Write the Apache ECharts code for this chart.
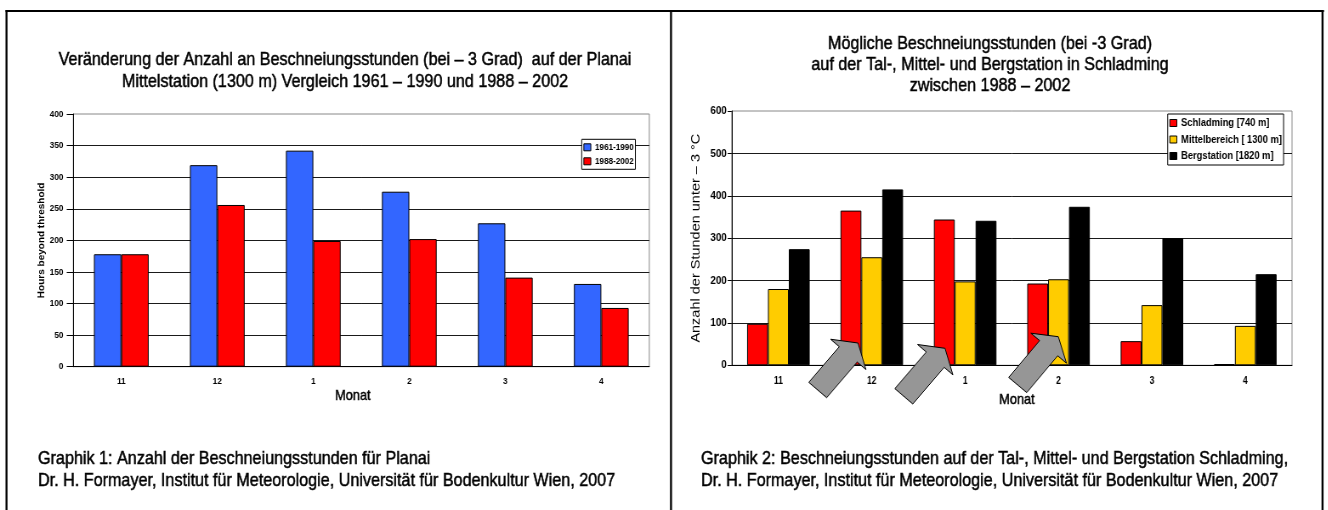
<!DOCTYPE html>
<html>
<head>
<meta charset="utf-8">
<title>Beschneiungsstunden Planai / Schladming</title>
<script src="https://cdn.jsdelivr.net/npm/echarts@6/dist/echarts.min.js"></script>
<style>
html, body { margin: 0; padding: 0; background: #fff; overflow: hidden; }
/* the scanned page is squeezed sideways, so the chart is drawn wider and scaled back */
#chart { width: 1563px; height: 510px; transform: scaleX(0.85); transform-origin: 0 0; }
</style>
</head>
<body>
<div id="chart"></div>
<script>
const SX = 0.85
const X = v => v / SX
const FONT = '"Liberation Sans", Arial, sans-serif'

// data
const months = ['11', '12', '1', '2', '3', '4']
const planai6190 = [178, 319, 342, 277, 227, 131]
const planai8802 = [178, 256, 199, 202, 141, 93]
const schladming740 = [98, 365, 344, 193, 57, 3]
const mittel1300 = [180, 255, 198, 203, 142, 93]
const berg1820 = [274, 415, 341, 374, 300, 215]
const hoursMax = 400, hoursStep = 50
const stundenMax = 600, stundenStep = 100

// arrows in page pixels: tail middle x, y, tip x, y
const arrows = [
  [817.7, 390, 858, 343],
  [903.8, 396.3, 945, 348.3],
  [1017.7, 385, 1058.3, 336.7]
]

const arrowPoints = (a) => {
  const [tx, ty, px, py] = a
  const L = Math.hypot(px - tx, py - ty)
  const dx = (px - tx) / L, dy = (py - ty) / L
  const nx = -dy, ny = dx
  const w1 = 11.8, w2 = 23.3, h = 15
  const bx = tx + dx * (L - h), by = ty + dy * (L - h)
  const pts = [
    [tx + nx * w1, ty + ny * w1],
    [bx + nx * w1, by + ny * w1],
    [bx + nx * w2, by + ny * w2],
    [px, py],
    [bx - nx * w2, by - ny * w2],
    [bx - nx * w1, by - ny * w1],
    [tx - nx * w1, ty - ny * w1]
  ]
  return pts.map(p => [X(p[0]), p[1]])
}

// scanned text is a bit heavier than the plain font
const thick = { textBorderColor: '#000', textBorderWidth: 0.5 }
const barBorder = { borderColor: '#000', borderWidth: 1 }

const catAxis = (grid, fontSize, margin, nameGap, namePad) => ({
  type: 'category',
  gridIndex: grid,
  data: months,
  axisLine: { lineStyle: { color: '#000', width: 1 } },
  axisTick: { length: 5, lineStyle: { color: '#000' } },
  axisLabel: { color: '#000', fontWeight: 'bold', fontSize: fontSize, margin: margin, fontFamily: FONT },
  name: 'Monat',
  nameLocation: 'middle',
  nameGap: nameGap,
  nameTextStyle: Object.assign({ color: '#000', fontSize: 15, fontFamily: FONT, padding: namePad }, thick)
})

const valAxis = (grid, max, step, opt) => ({
  type: 'value',
  gridIndex: grid,
  min: 0,
  max: max,
  interval: step,
  axisLine: { show: true, lineStyle: { color: '#000', width: 1 } },
  axisTick: { show: true, length: opt.tick, lineStyle: { color: '#000' } },
  axisLabel: { color: '#000', fontWeight: 'bold', fontSize: opt.fontSize, margin: opt.margin, fontFamily: FONT },
  splitLine: { showMaxLine: false, lineStyle: { color: '#1a1a1a', width: 1 } },
  name: opt.name,
  nameLocation: 'middle',
  nameGap: opt.nameGap,
  nameTextStyle: { color: '#000', fontSize: opt.nameSize, fontWeight: opt.nameWeight, fontFamily: FONT }
})

const legendBase = {
  orient: 'vertical',
  icon: 'rect',
  itemWidth: X(7),
  itemHeight: 7,
  borderColor: '#000',
  borderWidth: 1,
  backgroundColor: '#fff',
  selectedMode: false,
  itemStyle: { borderColor: '#000', borderWidth: 1 }
}

const borders = [
  [5.5, 10, 2, 500],
  [5.5, 10, 1318.5, 2],
  [670, 10, 2, 500],
  [1321.5, 10, 2, 500]
]

const myChart = echarts.init(document.getElementById('chart'))
const option = {
  animation: false,
  backgroundColor: '#fff',
  title: [
    {
      text: 'Veränderung der Anzahl an Beschneiungsstunden (bei – 3 Grad)  auf der Planai\nMittelstation (1300 m) Vergleich 1961 – 1990 und 1988 – 2002',
      left: X(345),
      top: 49,
      textAlign: 'center',
      padding: 0,
      textStyle: Object.assign({ color: '#000', fontSize: 19, fontWeight: 'normal', lineHeight: 21.7, fontFamily: FONT }, thick)
    },
    {
      text: 'Mögliche Beschneiungsstunden (bei -3 Grad)\nauf der Tal-, Mittel- und Bergstation in Schladming\nzwischen 1988 – 2002',
      left: X(990),
      top: 33,
      textAlign: 'center',
      padding: 0,
      textStyle: Object.assign({ color: '#000', fontSize: 19, fontWeight: 'normal', lineHeight: 21.3, fontFamily: FONT }, thick)
    }
  ],
  legend: [
    Object.assign({}, legendBase, {
      data: ['1961-1990', '1988-2002'],
      left: X(581.7),
      top: 139.3,
      itemGap: 4,
      padding: [3, 2],
      textStyle: { color: '#000', fontWeight: 'bold', fontSize: 9.5, lineHeight: 10, fontFamily: FONT }
    }),
    Object.assign({}, legendBase, {
      data: ['Schladming [740 m]', 'Mittelbereich [ 1300 m]', 'Bergstation [1820 m]'],
      left: X(1167.7),
      top: 114,
      itemGap: 4.5,
      padding: [3, 2],
      textStyle: { color: '#000', fontWeight: 'bold', fontSize: 11, lineHeight: 12, fontFamily: FONT }
    })
  ],
  grid: [
    { left: X(73.3), top: 114, width: X(576), height: 252.7, show: true, borderColor: '#888', borderWidth: 1, backgroundColor: '#fff' },
    { left: X(731.7), top: 111, width: X(560.3), height: 254.3, show: true, borderColor: '#888', borderWidth: 1, backgroundColor: '#fff' }
  ],
  xAxis: [
    catAxis(0, 9.5, 10, 22, [0, 20, 0, 0]),
    catAxis(1, 10, 11, 27.5, [0, 0, 0, 12])
  ],
  yAxis: [
    valAxis(0, hoursMax, hoursStep, { tick: X(6.6), fontSize: 9.5, margin: X(10), name: 'Hours beyond threshold', nameGap: X(26.6), nameSize: 10, nameWeight: 'bold' }),
    valAxis(1, stundenMax, stundenStep, { tick: X(4), fontSize: 11.5, margin: X(5), name: 'Anzahl der Stunden unter – 3 °C', nameGap: 34, nameSize: 14.5, nameWeight: 'normal' })
  ],
  series: [
    { name: '1961-1990', type: 'bar', xAxisIndex: 0, yAxisIndex: 0, data: planai6190, barGap: '0%', barCategoryGap: '43%', itemStyle: Object.assign({ color: '#3366ff' }, barBorder) },
    { name: '1988-2002', type: 'bar', xAxisIndex: 0, yAxisIndex: 0, data: planai8802, barGap: '0%', barCategoryGap: '43%', itemStyle: Object.assign({ color: '#ff0000' }, barBorder) },
    { name: 'Schladming [740 m]', type: 'bar', xAxisIndex: 1, yAxisIndex: 1, data: schladming740, barGap: '0%', barCategoryGap: '33%', itemStyle: Object.assign({ color: '#ff0000' }, barBorder) },
    { name: 'Mittelbereich [ 1300 m]', type: 'bar', xAxisIndex: 1, yAxisIndex: 1, data: mittel1300, barGap: '0%', barCategoryGap: '33%', itemStyle: Object.assign({ color: '#ffcc00' }, barBorder) },
    { name: 'Bergstation [1820 m]', type: 'bar', xAxisIndex: 1, yAxisIndex: 1, data: berg1820, barGap: '0%', barCategoryGap: '33%', itemStyle: Object.assign({ color: '#000000' }, barBorder) }
  ],
  graphic: [
    ...borders.map(b => ({
      type: 'rect', silent: true, z: 100,
      shape: { x: X(b[0]), y: b[1], width: X(b[2]), height: b[3] },
      style: { fill: '#000' }
    })),
    ...arrows.map(a => ({
      type: 'polygon', silent: true, z: 100,
      shape: { points: arrowPoints(a) },
      style: { fill: '#969696', stroke: '#000', lineWidth: 1 }
    })),
    {
      type: 'text', silent: true, x: X(38), y: 448,
      style: Object.assign({ text: 'Graphik 1: Anzahl der Beschneiungsstunden für Planai\nDr. H. Formayer, Institut für Meteorologie, Universität für Bodenkultur Wien, 2007', font: '19px ' + FONT, lineHeight: 22, fill: '#000', verticalAlign: 'top', stroke: '#000', lineWidth: 0.5 })
    },
    {
      type: 'text', silent: true, x: X(701), y: 448,
      style: { text: 'Graphik 2: Beschneiungsstunden auf der Tal-, Mittel- und Bergstation Schladming,\nDr. H. Formayer, Institut für Meteorologie, Universität für Bodenkultur Wien, 2007', font: '19px ' + FONT, lineHeight: 22, fill: '#000', verticalAlign: 'top', stroke: '#000', lineWidth: 0.5 }
    }
  ]
}
myChart.setOption(option)
</script>
</body>
</html>
